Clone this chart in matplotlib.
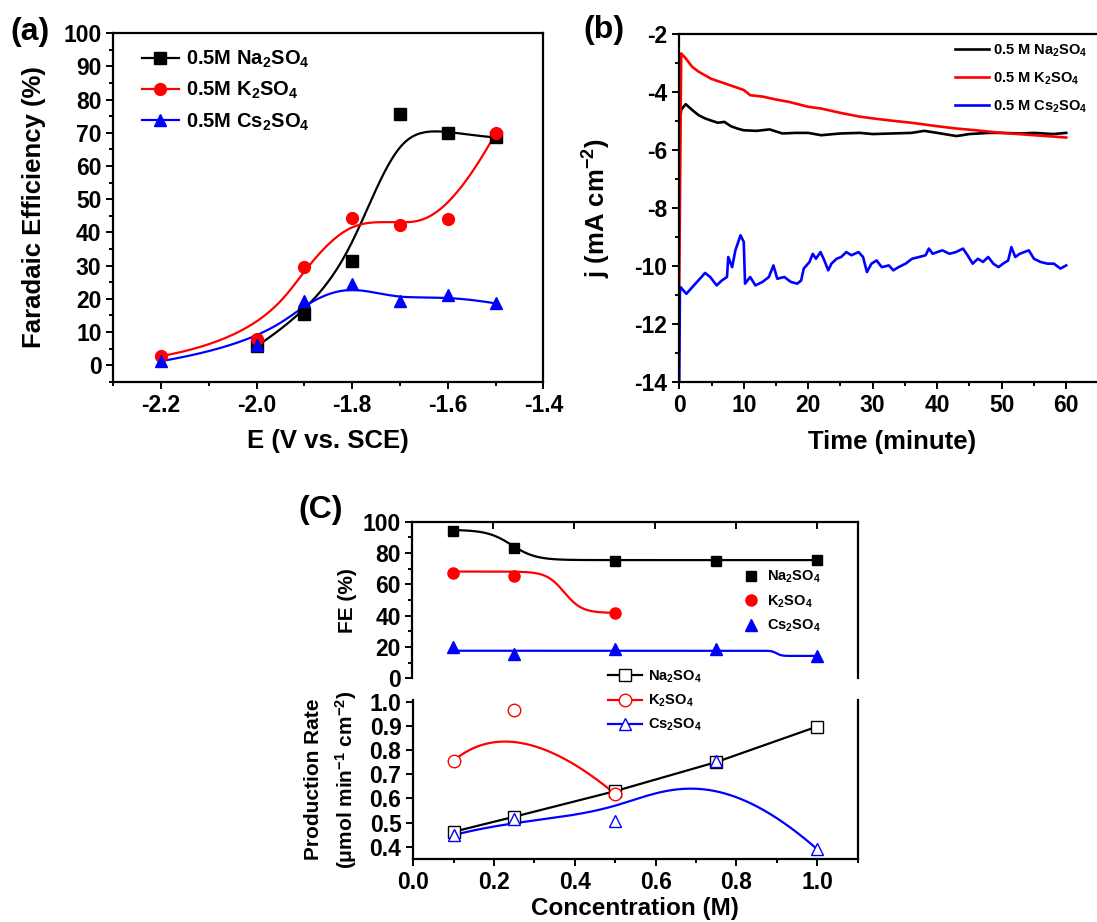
import numpy as np
import matplotlib.pyplot as plt
from matplotlib.ticker import MultipleLocator

plt.rcParams['font.family'] = ['Liberation Sans', 'DejaVu Sans']
plt.rcParams['font.weight'] = 'bold'
plt.rcParams['axes.labelweight'] = 'bold'
plt.rcParams['mathtext.fontset'] = 'custom'
plt.rcParams['mathtext.rm'] = 'Liberation Sans:bold'
plt.rcParams['mathtext.it'] = 'Liberation Sans:bold'
plt.rcParams['mathtext.bf'] = 'Liberation Sans:bold'
plt.rcParams['axes.unicode_minus'] = False
plt.rcParams['axes.linewidth'] = 1.6

# ---- (a) FE vs potential ----
E_na = [-2.0, -1.9, -1.8, -1.7, -1.6, -1.5]
fe_na = [5.7, 15.4, 31.5, 75.8, 69.8, 68.6]
E_k = [-2.2, -2.0, -1.9, -1.8, -1.7, -1.6, -1.5]
fe_k = [2.7, 8.0, 29.6, 44.3, 42.3, 44.0, 69.8]
E_cs = [-2.2, -2.0, -1.9, -1.8, -1.7, -1.6, -1.5]
fe_cs = [1.2, 6.2, 19.3, 24.3, 19.3, 21.0, 18.6]

# ---- (b) chronoamperometry, j in mA cm-2 ----
t_na = [0, 0.05, 0.3, 1, 2, 3, 4, 5, 6, 7, 8, 9, 10, 12, 14, 16, 18, 20, 22,
        25, 28, 30, 33, 36, 38, 40, 43, 45, 48, 50, 53, 55, 58, 60]
j_na = [-6.0, -5.2, -4.6, -4.41, -4.61, -4.79, -4.9, -4.98, -5.05, -5.02,
        -5.17, -5.25, -5.31, -5.33, -5.28, -5.42, -5.4, -5.4, -5.48, -5.42,
        -5.4, -5.44, -5.42, -5.4, -5.33, -5.4, -5.51, -5.44, -5.4, -5.4,
        -5.42, -5.4, -5.44, -5.4]
t_k = [0, 0.3, 1, 2, 3, 5, 7, 10, 11, 13, 15, 17, 20, 22, 25, 28, 30, 33,
       36, 40, 43, 46, 50, 55, 60]
j_k = [-10.64, -2.66, -2.83, -3.12, -3.29, -3.54, -3.69, -3.92, -4.1, -4.15,
       -4.25, -4.33, -4.5, -4.56, -4.71, -4.84, -4.9, -4.98, -5.05, -5.17,
       -5.25, -5.31, -5.4, -5.48, -5.56]
t_cs = [0, 0.1, 0.2, 1.1, 2.1, 3.2, 4.0, 4.8, 5.8, 6.6, 7.4, 7.6, 8.2, 8.7,
        9.5, 10.0, 10.2, 11.0, 11.8, 12.9, 13.9, 14.6, 15.2, 16.3, 17.3, 18.3,
        18.9, 19.3, 20.2, 20.7, 21.2, 21.9, 22.5, 23.1, 23.6, 24.4, 25.1, 25.9,
        26.7, 27.8, 28.5, 29.1, 29.8, 30.6, 31.4, 32.5, 33.2, 34.0, 35.1, 36.1,
        37.2, 38.2, 38.7, 39.3, 40.0, 40.8, 41.9, 42.9, 44.0, 44.7, 45.5, 46.3,
        47.1, 47.9, 48.7, 49.5, 50.2, 51.0, 51.5, 52.1, 52.8, 54.2, 55.0, 56.0,
        57.1, 58.1, 59.1, 60.0]
j_cs = [-14.0, -10.9, -10.72, -10.95, -10.7, -10.43, -10.23, -10.37, -10.66,
        -10.49, -10.37, -9.68, -10.03, -9.45, -8.93, -9.16, -10.6, -10.37,
        -10.66, -10.54, -10.37, -9.97, -10.43, -10.37, -10.54, -10.6, -10.49,
        -10.08, -9.85, -9.57, -9.74, -9.51, -9.8, -10.14, -9.91, -9.74, -9.68,
        -9.51, -9.62, -9.51, -9.68, -10.2, -9.91, -9.8, -10.03, -9.97, -10.14,
        -10.03, -9.91, -9.74, -9.68, -9.62, -9.39, -9.57, -9.51, -9.45, -9.57,
        -9.51, -9.39, -9.62, -9.91, -9.74, -9.85, -9.68, -9.91, -10.03, -9.91,
        -9.8, -9.34, -9.68, -9.57, -9.45, -9.74, -9.85, -9.91, -9.91, -10.08,
        -9.97]

# ---- (c) concentration series ----
conc = [0.1, 0.25, 0.5, 0.75, 1.0]
conc_k = [0.1, 0.25, 0.5]
fe_conc_na = [94.1, 82.9, 75.2, 74.7, 75.8]
fe_conc_k = [67.4, 65.3, 41.9]
fe_conc_cs = [19.8, 15.6, 18.9, 18.5, 14.5]
# Boltzmann fit parameters: A1, A2, x0, dx
fit_na = [94.8, 75.5, 0.245, 0.03]
fit_k = [68.2, 41.8, 0.375, 0.022]
fit_cs = [17.7, 14.4, 0.90, 0.006]
rate_na = [0.462, 0.524, 0.630, 0.750, 0.897]
rate_k = [0.756, 0.966, 0.618]
rate_cs = [0.448, 0.513, 0.506, 0.755, 0.390]

TICK_FS = 16.5


def bspline(xs, ys, num=400):
    """Clamped uniform B-spline using the points as control polygon."""
    ctrl = np.column_stack([xs, ys]).astype(float)
    m = len(ctrl)
    k = min(3, m - 1)
    knots = np.concatenate([np.zeros(k), np.linspace(0, 1, m - k + 1), np.ones(k)])
    t = np.linspace(0, 1 - 1e-9, num)
    N = np.zeros((num, len(knots) - 1))
    for i in range(len(knots) - 1):
        N[:, i] = (knots[i] <= t) & (t < knots[i + 1])
    for d in range(1, k + 1):
        Nn = np.zeros((num, len(knots) - 1 - d))
        for i in range(len(knots) - 1 - d):
            a = knots[i + d] - knots[i]
            b = knots[i + d + 1] - knots[i + 1]
            left = (t - knots[i]) / a * N[:, i] if a > 0 else 0
            right = (knots[i + d + 1] - t) / b * N[:, i + 1] if b > 0 else 0
            Nn[:, i] = left + right
        N = Nn
    pts = N @ ctrl
    return pts[:, 0], pts[:, 1]


def boltzmann(x, a1, a2, x0, dx):
    return a2 + (a1 - a2) / (1 + np.exp((x - x0) / dx))


def style_ticks(ax):
    ax.tick_params(which='both', direction='out', width=1.4, top=False, right=False)
    ax.tick_params(which='major', length=5)
    ax.tick_params(which='minor', length=3)


fig = plt.figure(figsize=(10.97, 9.22), dpi=100)

# ---------------- (a) ----------------
ax1 = fig.add_axes([0.1033, 0.5860, 0.3920, 0.3779])
x, y = bspline(E_na, fe_na)
ax1.plot(x, y, color='black', lw=1.6)
x, y = bspline(E_k, fe_k)
ax1.plot(x, y, color='red', lw=1.6)
x, y = bspline(E_cs, fe_cs)
ax1.plot(x, y, color='blue', lw=1.6)
ax1.plot(E_na, fe_na, 's', color='black', ms=8)
ax1.plot(E_k, fe_k, 'o', color='red', ms=8.5)
ax1.plot(E_cs, fe_cs, '^', color='blue', ms=9)
h_a = [plt.Line2D([], [], color=c, marker=m, ms=ms, lw=1.6)
       for c, m, ms in [('black', 's', 8), ('red', 'o', 8.5), ('blue', '^', 9)]]
ax1.legend(h_a, ['0.5M Na$_2$SO$_4$', '0.5M K$_2$SO$_4$', '0.5M Cs$_2$SO$_4$'],
           loc='upper left', bbox_to_anchor=(0.044, 0.985), frameon=False,
           fontsize=14.5, handlelength=1.8, handletextpad=0.35, labelspacing=0.5,
           borderpad=0)
ax1.set_xlim(-2.3, -1.4)
ax1.set_ylim(-5, 100)
ax1.xaxis.set_minor_locator(MultipleLocator(0.1))
ax1.yaxis.set_minor_locator(MultipleLocator(5))
ax1.set_xticks([-2.2, -2.0, -1.8, -1.6, -1.4])
ax1.set_xticklabels(['-2.2', '-2.0', '-1.8', '-1.6', '-1.4'])
ax1.set_yticks(range(0, 101, 10))
style_ticks(ax1)
ax1.tick_params(labelsize=TICK_FS)
ax1.set_xlabel('E (V vs. SCE)', fontsize=18.5)
ax1.set_ylabel('Faradaic Efficiency (%)', fontsize=18.5)
ax1.xaxis.set_label_coords(0.5, -0.136)
ax1.yaxis.set_label_coords(-0.157, 0.5)

# ---------------- (b) ----------------
ax2 = fig.add_axes([0.6192, 0.5854, 0.388, 0.3774])
ax2.plot(t_na, j_na, color='black', lw=1.9)
ax2.plot(t_k, j_k, color='red', lw=1.9)
ax2.plot(t_cs, j_cs, color='blue', lw=1.9)
ax2.set_xlim(0, 66)
ax2.set_ylim(-14, -2)
ax2.xaxis.set_minor_locator(MultipleLocator(5))
ax2.yaxis.set_major_locator(MultipleLocator(2))
ax2.yaxis.set_minor_locator(MultipleLocator(1))
ax2.set_xticks(range(0, 61, 10))
style_ticks(ax2)
ax2.tick_params(labelsize=TICK_FS)
ax2.set_xlabel('Time (minute)', fontsize=18.5)
ax2.set_ylabel('j (mA cm$^{-2}$)', fontsize=18.5)
ax2.xaxis.set_label_coords(0.5, -0.136)
ax2.yaxis.set_label_coords(-0.156, 0.5)
fig.legend(ax2.lines, ['0.5 M Na$_2$SO$_4$', '0.5 M K$_2$SO$_4$', '0.5 M Cs$_2$SO$_4$'],
           loc='upper left', bbox_to_anchor=(0.864, 0.962), frameon=False,
           fontsize=10.5, handlelength=2.3, handletextpad=0.3, labelspacing=0.8,
           borderpad=0)

# ---------------- (c) upper: FE ----------------
ax3 = fig.add_axes([0.3760, 0.2641, 0.4057, 0.1701])
xx = np.linspace(conc[0], conc[-1], 400)
xk = np.linspace(conc_k[0], conc_k[-1], 300)
ax3.plot(xx, boltzmann(xx, *fit_na), color='black', lw=1.6)
ax3.plot(xk, boltzmann(xk, *fit_k), color='red', lw=1.6)
ax3.plot(xx, boltzmann(xx, *fit_cs), color='blue', lw=1.6)
s1, = ax3.plot(conc, fe_conc_na, 's', color='black', ms=7.5, clip_on=False)
s2, = ax3.plot(conc_k, fe_conc_k, 'o', color='red', ms=8, clip_on=False)
s3, = ax3.plot(conc, fe_conc_cs, '^', color='blue', ms=8.5, clip_on=False)
ax3.legend([s1, s2, s3], ['Na$_2$SO$_4$', 'K$_2$SO$_4$', 'Cs$_2$SO$_4$'],
           loc='upper left', bbox_to_anchor=(0.727, 0.745), frameon=False,
           fontsize=10.5, handlelength=1.0, handletextpad=0.6, labelspacing=0.55,
           borderpad=0)
ax3.set_xlim(0, 1.1)
ax3.set_ylim(0, 100)
ax3.yaxis.set_major_locator(MultipleLocator(20))
ax3.yaxis.set_minor_locator(MultipleLocator(10))
ax3.set_xticks([0.2, 0.4, 0.6, 0.8, 1.0])
ax3.spines['bottom'].set_visible(False)
style_ticks(ax3)
ax3.tick_params(axis='x', which='both', bottom=False, labelbottom=False,
                top=True, direction='in', length=5)
ax3.tick_params(axis='y', labelsize=TICK_FS)
ax3.set_ylabel('FE (%)', fontsize=15)
ax3.yaxis.set_label_coords(-0.125, 0.5)

# ---------------- (c) lower: production rate ----------------
ax4 = fig.add_axes([0.3767, 0.0680, 0.4050, 0.1728])
ax4.plot(conc, rate_na, color='black', lw=1.6)
x, y = bspline(conc_k, rate_k)
ax4.plot(x, y, color='red', lw=1.6)
x, y = bspline(conc, rate_cs)
ax4.plot(x, y, color='blue', lw=1.6)
ax4.plot(conc, rate_na, 's', mfc='white', mec='black', ms=8, mew=1.0)
ax4.plot(conc_k, rate_k, 'o', mfc='white', mec='red', ms=9, mew=1.0)
ax4.plot(conc, rate_cs, '^', mfc='white', mec='blue', ms=9, mew=1.0, clip_on=False)
h_c = [plt.Line2D([], [], color=c, marker=m, mfc='white', mec=c, ms=ms, lw=1.6)
       for c, m, ms in [('black', 's', 8), ('red', 'o', 9), ('blue', '^', 9)]]
ax4.legend(h_c, ['Na$_2$SO$_4$', 'K$_2$SO$_4$', 'Cs$_2$SO$_4$'],
           loc='upper left', bbox_to_anchor=(0.423, 1.245), frameon=False,
           fontsize=10.5, handlelength=2.3, handletextpad=0.4, labelspacing=0.55,
           borderpad=0)
ax4.set_xlim(0, 1.1)
ax4.set_ylim(0.348, 1.007)
ax4.set_xticks([0.0, 0.2, 0.4, 0.6, 0.8, 1.0])
ax4.xaxis.set_minor_locator(MultipleLocator(0.1))
ax4.set_yticks([0.4, 0.5, 0.6, 0.7, 0.8, 0.9, 1.0])
ax4.spines['top'].set_visible(False)
style_ticks(ax4)
ax4.tick_params(labelsize=TICK_FS)
ax4.set_xlabel('Concentration (M)', fontsize=17.5)
ax4.set_ylabel('Production Rate\n(μmol min$^{-1}$ cm$^{-2}$)', fontsize=15,
               linespacing=1.55)
ax4.xaxis.set_label_coords(0.5, -0.235)
ax4.yaxis.set_label_coords(-0.121, 0.5)

# panel tags
fig.text(0.027, 0.965, '(a)', fontsize=23, ha='center', va='center')
fig.text(0.5506, 0.967, '(b)', fontsize=23, ha='center', va='center')
fig.text(0.2926, 0.447, '(C)', fontsize=23, ha='center', va='center')

fig.savefig('out.png', dpi=100)
